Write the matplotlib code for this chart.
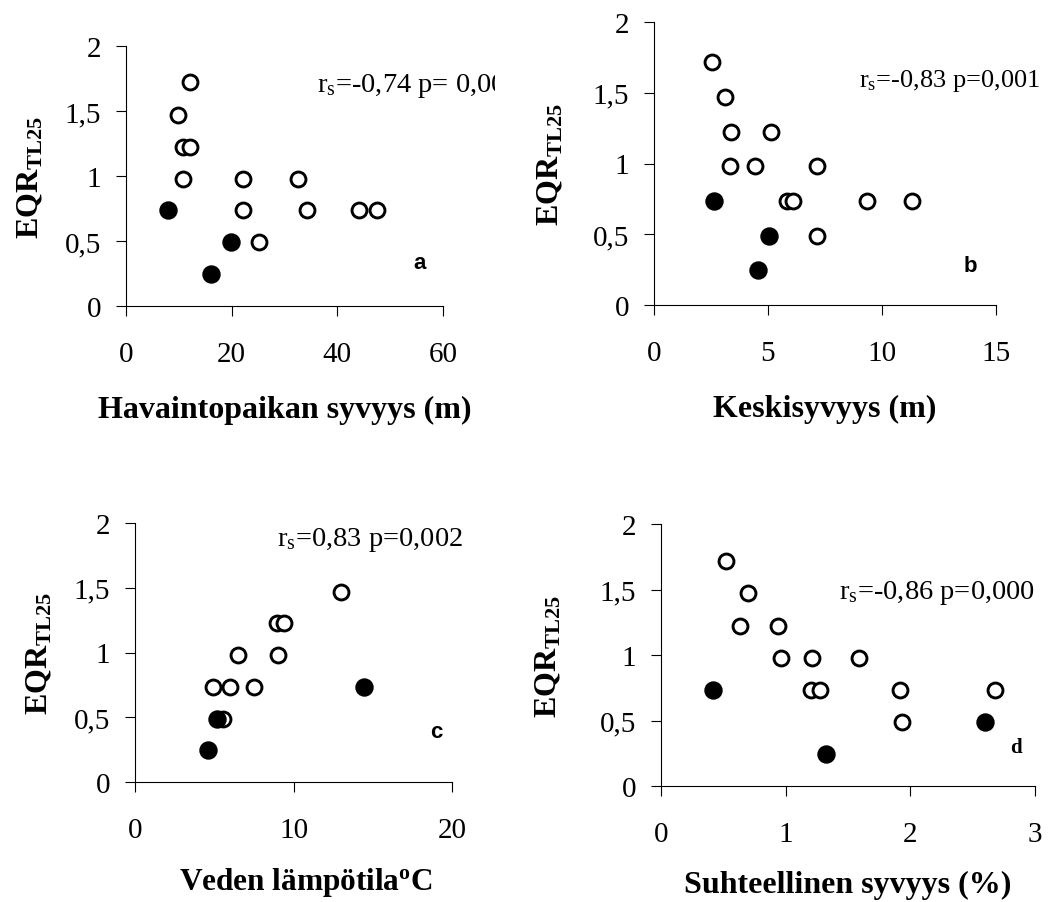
import matplotlib
matplotlib.use('Agg')
import matplotlib.pyplot as plt
from matplotlib.transforms import Bbox, TransformedBbox

plt.rcParams['font.family'] = 'Liberation Serif'
plt.rcParams['mathtext.fontset'] = 'custom'
plt.rcParams['mathtext.rm'] = 'Liberation Serif'
plt.rcParams['mathtext.it'] = 'Liberation Serif:italic'
plt.rcParams['mathtext.bf'] = 'Liberation Serif:bold'

# EQR_TL25 levels shared by the panels
eqr_open = [1.72, 1.47, 1.225, 1.225, 0.98, 0.98, 0.98, 0.735, 0.735, 0.735, 0.735, 0.49]
eqr_filled = [0.735, 0.49, 0.245]

# a: depth of sampling site
a_open_x = [12.1, 9.8, 10.7, 12.1, 10.7, 22.1, 32.5, 22.1, 34.2, 44.1, 47.6, 25.1]
a_filled_x = [8.0, 19.8, 16.0]

# b: mean depth
b_open_x = [2.53, 3.12, 3.37, 5.12, 3.34, 4.43, 7.14, 5.82, 6.09, 9.34, 11.31, 7.14]
b_filled_x = [2.63, 5.05, 4.58]

# c: water temperature (fewer sites measured)
c_open_x = [13.0, 8.93, 9.39, 6.49, 9.01, 4.95, 6.0, 7.52, 5.54]
c_open_y = [1.47, 1.225, 1.225, 0.98, 0.98, 0.735, 0.735, 0.735, 0.49]
c_filled_x = [5.16, 14.42, 4.59]
c_filled_y = [0.49, 0.735, 0.245]

# d: relative depth
d_open_x = [0.524, 0.70, 0.636, 0.94, 0.962, 1.21, 1.59, 1.203, 1.275, 1.914, 2.678, 1.933]
d_filled_x = [0.414, 1.323, 2.60]
d_filled_y = [0.735, 0.245, 0.49]

y_ticks = [0, 0.5, 1, 1.5, 2]
y_ticklabels = ['0', '0,5', '1', '1,5', '2']

W, H = 1048, 903
fig = plt.figure(figsize=(W / 100, H / 100), dpi=100)


def make_axes(left, right, top, bottom):
    return fig.add_axes([left / W, 1 - bottom / H, (right - left) / W, (bottom - top) / H])


def style(ax, xmax, xticks, xlabel, xlabel_pos, xlabel_size, stat, stat_pos, stat_size,
          letter, letter_pos, letter_font, letter_size):
    for side in ['top', 'right']:
        ax.spines[side].set_visible(False)
    for side in ['left', 'bottom']:
        ax.spines[side].set_linewidth(0.8)
    ax.set_xlim(0, xmax)
    ax.set_ylim(0, 2)
    ax.set_xticks(xticks)
    ax.set_xticklabels([str(t) for t in xticks])
    ax.set_yticks(y_ticks)
    ax.set_yticklabels(y_ticklabels)
    ax.tick_params(axis='both', direction='out', length=7, width=0.8, labelsize=21)
    ax.tick_params(axis='x', pad=18)
    ax.tick_params(axis='y', pad=11)
    ax.set_ylabel(r'$\mathbf{EQR_{TL25}}$', fontsize=23, va='center')
    ax.yaxis.set_label_coords(-0.30, 0.5)
    ax.set_xlabel(xlabel, fontsize=xlabel_size, fontweight='bold', va='center')
    ax.xaxis.set_label_coords(*xlabel_pos)
    t = ax.text(stat_pos[0], stat_pos[1], stat, transform=ax.transAxes,
                fontsize=stat_size, va='baseline', ha='left')
    ax.text(letter_pos[0], letter_pos[1], letter, transform=ax.transAxes,
            fontsize=letter_size, fontweight='bold', family=letter_font, ha='center', va='center')
    return t


def draw(ax, ox, oy, fx, fy):
    ax.scatter(ox, oy, s=115, facecolors='white', edgecolors='black', linewidths=2.1, zorder=3, clip_on=False)
    ax.scatter(fx, fy, s=150, color='black', zorder=4, clip_on=False)


ax_a = make_axes(126, 443, 47, 307)
draw(ax_a, a_open_x, eqr_open, a_filled_x, eqr_filled)
stat_a = style(ax_a, 60, [0, 20, 40, 60], 'Havaintopaikan syvyys (m)', (0.5, -0.396), 23,
               r'r$_{\mathrm{s}}$=-0,74 p= 0,006', (0.603, 0.827), 20.5,
               'a', (0.927, 0.169), 'Liberation Sans', 16)
# statistic text is cut at the right edge of the chart area
stat_a.set_clip_box(TransformedBbox(Bbox([[0, 0], [495 / W, 1]]), fig.transFigure))
stat_a.set_clip_on(True)

ax_b = make_axes(654, 996, 23, 306)
draw(ax_b, b_open_x, eqr_open, b_filled_x, eqr_filled)
style(ax_b, 15, [0, 5, 10, 15], 'Keskisyvyys (m)', (0.5, -0.367), 23,
      r'r$_{\mathrm{s}}$=-0,83 p=0,001', (0.598, 0.774), 19,
      'b', (0.926, 0.138), 'Liberation Sans', 16)

ax_c = make_axes(135, 452, 524, 783)
draw(ax_c, c_open_x, c_open_y, c_filled_x, c_filled_y)
style(ax_c, 20, [0, 10, 20], r'Veden lämpötila$^{\mathbf{o}}$C', (0.54, -0.385), 22.5,
      r'r$_{\mathrm{s}}$=0,83 p=0,002', (0.447, 0.915), 20.5,
      'c', (0.95, 0.195), 'Liberation Sans', 16)

ax_d = make_axes(661, 1035, 525, 787)
draw(ax_d, d_open_x, eqr_open, d_filled_x, d_filled_y)
style(ax_d, 3, [0, 1, 2, 3], 'Suhteellinen syvyys (%)', (0.5, -0.375), 23,
      r'r$_{\mathrm{s}}$=-0,86 p=0,000', (0.477, 0.716), 20.5,
      'd', (0.949, 0.147), 'Liberation Serif', 15)

fig.savefig('out.png', dpi=100, facecolor='white')
